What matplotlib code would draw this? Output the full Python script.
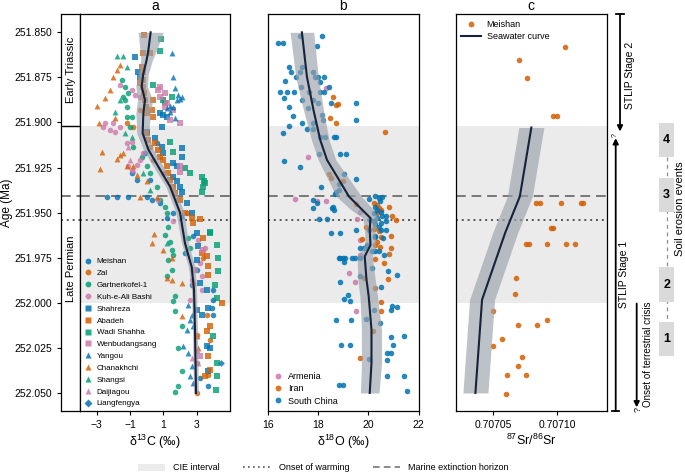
import matplotlib
matplotlib.use('Agg')
import matplotlib.pyplot as plt
from matplotlib.lines import Line2D
from matplotlib.patches import Patch, Rectangle
from matplotlib.ticker import FormatStrFormatter

plt.rcParams['font.family'] = ['Liberation Sans', 'DejaVu Sans']
plt.rcParams['mathtext.fontset'] = 'custom'
plt.rcParams['mathtext.rm'] = 'Liberation Sans'
plt.rcParams['mathtext.it'] = 'Liberation Sans:italic'

# ---------------- data: panel a (d13C) ----------------
meishan_x = [0.6, -0.1, -0.9, -0.6, 0.2, -2.4, -1.8, -1.1, 0.0, 0.3, 0.8, 1.2, 1.6, 2.8, 2.3, 4.0, 4.0, 3.9, 4.0, 3.7, 3.2, 2.7, 3.0]
meishan_age = [251.9115, 251.917, 251.9281, 251.9318, 251.9318, 251.9411, 251.9411, 251.9411, 251.9411, 251.9429, 251.9448, 251.9531, 251.9503, 251.9632, 251.9724, 251.9927, 251.9983, 252.0029, 252.0066, 252.0463, 252.0417, 251.9900, 251.9817]
zal_x = [-0.4, -1.2, -0.8, 0.2, 0.4, 1.0, 1.8, 2.4, 2.8, 3.4, 3.6, 3.8, 3.0, 3.7, 3.0, 3.0]
zal_age = [251.893, 251.9004, 251.9023, 251.9134, 251.9207, 251.9281, 251.9429, 251.9503, 251.989, 251.9752, 252.0066, 252.0204, 252.0177, 252.0398, 252.05, 252.0334]
gart_x = [-1.5, -1.3, -1.4, -1.3, -1.2, -1.2, -1.0, -0.8, -0.3, 0.0, 0.2, 0.6, 0.8, 1.1, 1.2, 1.3, -1.1, -0.9,
          1.1, 1.4, 1.5, 1.6, 1.3, 1.2, 1.5, 1.7, 1.6, 1.7, 2.1, 1.9, 2.1, 1.9, 1.7, 2.5, 2.6]
gart_age = [251.8764, 251.8801, 251.8856, 251.8875, 251.8912, 251.8967, 251.9023, 251.9134, 251.9189, 251.9244, 251.9281, 251.9355, 251.9429, 251.9466, 251.9503, 251.9577, 251.8838, 251.8967,
            251.9623, 251.966, 251.9706, 251.9734, 251.9761, 251.9854, 251.9817, 251.9964, 251.9992, 252.0047, 252.0131, 252.025, 252.038, 252.0463, 252.0494, 251.9641, 251.9697]
kuh_x = [-1.6, -0.9, -0.7, -0.4, -2.0, -2.5, -2.6, -2.2, -1.9, -1.6, -1.2, -0.9, -1.1, -0.9, -0.6, -0.4, -0.2, 0.7, 1.6, 3.1, 3.5, 3.2, 3.3, 3.3, 2.7, 2.8, 2.6]
kuh_age = [251.8792, 251.882, 251.8847, 251.8856, 251.9004, 251.9004, 251.9023, 251.9041, 251.905, 251.9023, 251.9115, 251.9106, 251.9244, 251.9263, 251.9235, 251.9207, 251.917, 251.9429, 251.9546, 251.965, 251.9697, 251.978, 251.9854, 251.9927, 251.9872, 251.99, 251.9983]
shahreza_x = [-0.7, -0.5, -0.4, 0.8, 1.0, 1.2, 0.9, 0.0, 0.5, 0.9, 1.0, 1.6, 1.8, 2.1, 2.1, 1.6, 1.8, 2.0, 2.1, 2.4, 2.7, 3.0, 3.1, 3.0, 3.2, 3.6, 3.0, 3.7, 3.6, 3.7, 3.3, 3.8]
shahreza_age = [251.8639, 251.8718, 251.8746, 251.8949, 251.8958, 251.8967, 251.9023, 251.905, 251.9087, 251.9134, 251.917, 251.9226, 251.9244, 251.9143, 251.9189, 251.93, 251.9327, 251.9355, 251.9383, 251.9448, 251.9503, 251.9613, 251.9687, 251.9761, 251.989, 251.9927, 252.0038, 252.0029, 252.0241, 252.038, 252.0066, 252.025]
abadeh_x = [-0.14, -0.2, -0.3, -0.2, -0.24, -0.2, -0.16, -0.1, -0.04, 0.0, 0.3, 0.4, 0.4, 0.0, 0.1, 0.5, 0.7, 0.8, 1.0, 1.2, 1.3, 1.4, 1.6, 1.7, 2.0, 2.3, 2.7, 3.2, 2.8, 0.2, -0.4, 3.4, 3.3, 3.6, 3.7, 3.7, 4.5, 3.8, 3.6, 3.7, 3.8, 3.5]
abadeh_age = [251.8515, 251.8616, 251.869, 251.8718, 251.8764, 251.8801, 251.8838, 251.8875, 251.8912, 251.8949, 251.893, 251.8875, 251.8967, 251.906, 251.9097, 251.9115, 251.9152, 251.9189, 251.9207, 251.9244, 251.9281, 251.9318, 251.9355, 251.9392, 251.9429, 251.9503, 251.9531, 251.9536, 251.9558, 251.8616, 251.8783, 251.9641, 251.9724, 251.9743, 251.9798, 251.9844, 252.0001, 252.0131, 252.0158, 252.0297, 252.0371, 252.0408]
wadi_x = [0.86, 0.8, 0.4, 1.0, 1.1, 1.5, 1.4, 2.3, 2.6, 3.3, 3.44, 3.5, 3.4, 3.3, 3.8, 1.6, 3.8, 4.2, 4.3, 4.3, 4.1, 4.2, 4.0, 4.2, 4.2, 4.16]
wadi_age = [251.8539, 251.8602, 251.8792, 251.8875, 251.8893, 251.8856, 251.9106, 251.9254, 251.9281, 251.93, 251.9327, 251.9337, 251.9355, 251.9383, 251.9605, 251.9161, 251.9613, 251.9678, 251.9752, 251.9826, 251.99, 251.9974, 252.0186, 252.0334, 252.0408, 252.0482]
wenbu_x = [0.8, 1.1, 0.8, 1.2, 1.6, 2.0, 1.4, 2.0, 2.0, 1.1, 0.7, 3.2, 3.4, 2.9]
wenbu_age = [251.8801, 251.8838, 251.8856, 251.8893, 251.893, 251.9004, 251.8986, 251.9272, 251.9244, 251.8912, 251.882, 252.0297, 251.9706, 251.9817]
yangou_x = [1.5, 1.56, 1.7, 1.9, 2.1, 2.0, 1.8, 1.4, 1.6, 1.2, 1.4, 1.7, 2.1, 2.5, 2.6, 2.7, 2.8, 2.2, 2.5, 2.7, 2.8, 2.4, 2.6]
yangou_age = [251.8613, 251.8749, 251.881, 251.8847, 251.8856, 251.8871, 251.8875, 251.8908, 251.8912, 251.8921, 251.894, 251.8977, 251.9521, 252.0011, 252.0094, 252.0066, 252.0131, 252.0241, 252.0278, 252.0352, 252.0445, 252.0149, 252.0408]
chan_x = [-1.8, -2.04, -2.2, -2.5, -2.96, -2.84, -2.7, -1.8, -2.8, -1.6, -1.4, -1.2, -0.8, -0.6, 0.0, -0.4, 0.6, -1.9, -1.6, 0.44, 0.3, 1.0, 1.5, 2.1, 1.5, 1.2, 2.1, 3.0, 3.1]
chan_age = [251.8709, 251.8746, 251.882, 251.8866, 251.8908, 251.9001, 251.9161, 251.9204, 251.9259, 251.918, 251.917, 251.9244, 251.9244, 251.9291, 251.9327, 251.9411, 251.9411, 251.8977, 251.868, 251.9617, 251.9669, 251.9706, 251.9752, 251.989, 251.9872, 251.9863, 252.0075, 252.0186, 252.025]
shangsi_x = [-1.76, -1.4, -1.2, -1.6, -1.9, -1.3, -0.9, -0.2, 0.2, 1.2]
shangsi_age = [251.8631, 251.8631, 251.869, 251.8875, 251.894, 251.906, 251.9078, 251.9281, 251.9374, 251.9669]
daij_x = [-1.1, -1.0, -0.8, 2.7, 3.0, 3.1]
daij_age = [251.9134, 251.9207, 251.9263, 252.0306, 252.0259, 252.0334]
liang_x = [4.45]
liang_age = [252.0334]

curve_a_age = [251.850, 251.860, 251.8653, 251.873, 251.880, 251.8875, 251.8949, 251.906, 251.915, 251.9245, 251.9355, 251.950, 251.967, 251.980, 251.9928, 252.015, 252.050]
curve_a_x = [0.24, 0.1, 0.0, -0.2, -0.3, -0.1, -0.2, -0.24, 0.1, 0.7, 1.4, 2.0, 2.3, 2.7, 2.84, 2.9, 2.96]
curve_a_hw = [0.75, 0.5, 0.35, 0.3, 0.35, 0.45, 0.45, 0.35, 0.3, 0.3, 0.25, 0.25, 0.2, 0.2, 0.15, 0.15, 0.15]

# ---------------- data: panel b (d18O) ----------------
sc_x = [18.15, 17.28, 16.41, 16.59, 17.97, 16.85, 16.91, 17.35, 17.28, 17.79, 18.21, 17.88, 18.01, 18.08, 16.68, 17.12, 17.31, 18.41,
        16.48, 16.75, 17.05, 17.65, 18.08, 18.21, 16.65, 17.35, 17.81, 18.01, 18.51, 19.51, 16.85, 17.59, 17.01, 18.15, 18.19, 17.81,
        19.51, 16.85, 17.35, 17.55, 17.81, 16.59, 18.08, 18.28, 18.61, 18.72, 18.05, 18.85, 19.12, 16.64, 17.28, 19.01, 19.51, 18.11,
        18.81, 18.72, 18.81, 18.68, 17.81, 17.97, 17.81, 18.55, 18.61, 18.59, 18.05, 18.35, 20.01, 20.28, 20.41, 20.55, 20.45, 20.28,
        20.35, 20.21, 20.51, 20.08, 20.21, 20.35, 20.55, 20.68, 20.28, 20.48, 20.68, 20.41, 20.01, 20.68, 19.51, 18.52, 18.88, 20.28,
        20.48, 20.59, 20.28, 19.68, 19.81, 19.95, 20.15, 20.28, 20.41, 20.61, 18.81, 18.88, 18.99, 19.08, 19.35, 19.48, 19.68, 19.01,
        20.15, 20.79, 21.12, 19.68, 18.88, 20.51, 19.17, 19.01, 19.25, 20.95, 21.12, 20.91, 18.72, 19.31, 19.92, 20.24, 20.44, 20.88,
        21.41, 18.92, 19.25, 20.99, 20.72, 20.88, 20.72, 20.01, 20.75, 21.41, 18.81, 18.99, 21.52]
sc_age = [251.852, 251.852, 251.8561, 251.8561, 251.8576, 251.869, 251.8718, 251.869, 251.8718, 251.8718, 251.8746, 251.8749, 251.8749, 251.8773, 251.877, 251.8749, 251.8801, 251.8801,
          251.8829, 251.8829, 251.8829, 251.8829, 251.8829, 251.8829, 251.8866, 251.8875, 251.8875, 251.8893, 251.8893, 251.8893, 251.8912, 251.8917, 251.8964, 251.8958, 251.8986, 251.9001,
          251.8986, 251.9019, 251.9004, 251.9037, 251.9037, 251.9056, 251.9082, 251.9082, 251.9078, 251.9078, 251.9174, 251.9174, 251.9174, 251.9211, 251.9248, 251.9287, 251.9315, 251.9355,
          251.9342, 251.9388, 251.9374, 251.9398, 251.9429, 251.9448, 251.9475, 251.9475, 251.9484, 251.9466, 251.9534, 251.9534, 251.9425, 251.941, 251.942, 251.9414, 251.9438, 251.9466,
          251.9484, 251.9503, 251.9494, 251.954, 251.9544, 251.9531, 251.9521, 251.9518, 251.9562, 251.9555, 251.9549, 251.9577, 251.9595, 251.9595, 251.9595, 251.9614, 251.9614, 251.9636,
          251.9595, 251.9641, 251.9632, 251.9697, 251.9697, 251.9678, 251.9715, 251.9715, 251.9715, 251.9734, 251.9752, 251.9752, 251.9752, 251.9752, 251.9752, 251.9752, 251.9752, 251.9771,
          251.9808, 251.9826, 251.9845, 251.9854, 251.9887, 251.9913, 251.9955, 251.998, 251.9989, 252.002, 252.0024, 252.0042, 252.0094, 252.0094, 252.009, 252.0042, 252.0113, 252.019,
          252.0186, 252.0233, 252.0233, 252.0233, 252.0279, 252.0279, 252.0316, 252.0312, 252.0408, 252.0408, 252.0458, 252.0458, 252.0491]
iran_x = [18.59, 18.77, 18.72, 18.45, 18.72, 20.65, 18.41, 18.51, 18.99, 19.52, 20.21, 20.35, 20.41, 20.48, 20.81, 20.35, 20.95, 21.08, 19.92, 20.21,
          20.41, 20.88, 19.75, 20.48, 20.35, 20.28, 20.45, 20.91, 20.81, 20.28, 20.61, 20.79, 20.28, 20.48, 20.51, 19.84, 20.19, 19.68]
iran_age = [251.886, 251.8897, 251.8903, 251.8977, 251.9001, 251.905, 251.9287, 251.9309, 251.9327, 251.9451, 251.9448, 251.9457, 251.9475, 251.9488, 251.947, 251.9503, 251.9521, 251.954, 251.9577, 251.9592,
            251.9599, 251.9628, 251.9647, 251.9636, 251.966, 251.9678, 251.9691, 251.9697, 251.973, 251.9758, 251.978, 251.9869, 251.992, 251.9998, 252.0048, 251.9863, 252.0159, 252.0306]
arm_x = [18.31, 17.61, 17.08, 18.32, 17.95, 19.68, 19.55, 19.68, 19.65, 19.24, 19.45, 19.52]
arm_age = [251.881, 251.9194, 251.9424, 251.9433, 251.9438, 251.9494, 251.9534, 251.9651, 251.9734, 251.9832, 251.9887, 252.0048]

curve_b_age = [251.850, 251.8746, 251.893, 251.9097, 251.9208, 251.930, 251.941, 251.9484, 251.953, 251.9597, 251.968, 251.9743, 251.987, 251.9965, 252.015, 252.0334, 252.050]
curve_b_x = [17.35, 17.55, 17.81, 18.08, 18.35, 18.75, 19.22, 19.75, 20.08, 20.05, 20.08, 19.85, 19.92, 20.01, 20.12, 20.12, 20.05]
curve_b_hw = [0.47, 0.45, 0.4, 0.35, 0.35, 0.42, 0.5, 0.45, 0.3, 0.2, 0.22, 0.3, 0.35, 0.35, 0.4, 0.4, 0.37]

# ---------------- data: panel c (87Sr/86Sr) ----------------
sr_x = [0.707106, 0.707070, 0.7070766, 0.7070973, 0.7071, 0.7070836, 0.707087, 0.7071031, 0.707119, 0.7071208,
        0.7070953, 0.707097, 0.707076, 0.7070778, 0.707092, 0.707107, 0.7071138, 0.707068, 0.7070669, 0.70705,
        0.707092, 0.7070698, 0.7070846, 0.707057, 0.70705, 0.7070727, 0.7070698, 0.707061, 0.7070758, 0.7070598]
sr_age = [251.858, 251.8653, 251.8751, 251.8964, 251.8964, 251.9447, 251.9447, 251.9447, 251.9447, 251.9447,
          251.9583, 251.9583, 251.9673, 251.9673, 251.9673, 251.9673, 251.9673, 251.9865, 251.995, 252.0048,
          252.0093, 252.0125, 252.0125, 252.020, 252.024, 252.030, 252.0353, 252.0403, 252.0403, 252.0508]
curve_c_age = [251.9028, 251.941, 251.961, 251.9983, 252.050]
curve_c_x = [0.707080, 0.707071, 0.7070596, 0.7070414, 0.7070362]
curve_c_hw = 0.0000098

# ---------------- horizons ----------------
cie_top, cie_bottom = 251.902, 252.000
ptb_age = 251.902
extinction_age = 251.941
warming_age = 251.954
erosion_events = ['1', '2', '3', '4']
erosion_top = [252.0107, 251.9804, 251.9306, 251.9003]
erosion_bottom = [252.0293, 251.9996, 251.9497, 251.919]

blue, orange, green, pink = '#0072B2', '#D55E00', '#009E73', '#CC79A7'
curve_col = '#17223b'
band_col = '#9aa1ab'
cie_col = '#ebebeb'
YLIM = (252.06, 251.84)

W, H = 685, 475
fig = plt.figure(figsize=(W / 100, H / 100), dpi=100)
bot = (H - 411) / H
hgt = (411 - 14.3) / H

ax_s = fig.add_axes([61 / W, bot, 19 / W, hgt])
ax_a = fig.add_axes([80 / W, bot, 150 / W, hgt])
ax_b = fig.add_axes([268 / W, bot, 150.7 / W, hgt])
ax_c = fig.add_axes([456 / W, bot, 150.7 / W, hgt])
ax_r = fig.add_axes([606.7 / W, bot, 78.3 / W, hgt])

for ax in (ax_s, ax_a, ax_b, ax_c):
    ax.set_ylim(*YLIM)
    ax.axhline(extinction_age, color='#777777', lw=1.4, ls=(0, (5, 3)), zorder=1)
    ax.axhline(warming_age, color='#555555', lw=1.4, ls=(0, (1, 2)), zorder=1)
    ax.tick_params(labelsize=7.5, length=3, width=0.8)
    for sp in ax.spines.values():
        sp.set_linewidth(0.9)
for ax in (ax_a, ax_b, ax_c):
    ax.axhspan(cie_top, cie_bottom, color=cie_col, lw=0, zorder=0)
    ax.set_yticks([])

# strip
ax_s.set_xlim(0, 1)
ax_s.set_xticks([])
ax_s.set_yticks([251.850, 251.875, 251.900, 251.925, 251.950, 251.975, 252.000, 252.025, 252.050])
ax_s.yaxis.set_major_formatter(FormatStrFormatter('%.3f'))
ax_s.plot([0, 1], [ptb_age, ptb_age], color='black', lw=1.0)
ax_s.text(0.5, (YLIM[1] + ptb_age) / 2, 'Early Triassic', rotation=90, ha='center', va='center', fontsize=8)
ax_s.text(0.5, (YLIM[0] + ptb_age) / 2, 'Late Permian', rotation=90, ha='center', va='center', fontsize=8)
fig.text(7.5 / W, (H - 203) / H, 'Age (Ma)', rotation=90, ha='center', va='center', fontsize=8.5)

# panel a
sites = [
    ('Meishan', meishan_x, meishan_age, 'o', blue),
    ('Zal', zal_x, zal_age, 'o', orange),
    ('Gartnerkofel-1', gart_x, gart_age, 'o', green),
    ('Kuh-e-Ali Bashi', kuh_x, kuh_age, 'o', pink),
    ('Shahreza', shahreza_x, shahreza_age, 's', blue),
    ('Abadeh', abadeh_x, abadeh_age, 's', orange),
    ('Wadi Shahha', wadi_x, wadi_age, 's', green),
    ('Wenbudangsang', wenbu_x, wenbu_age, 's', pink),
    ('Yangou', yangou_x, yangou_age, '^', blue),
    ('Chanakhchi', chan_x, chan_age, '^', orange),
    ('Shangsi', shangsi_x, shangsi_age, '^', green),
    ('Daijiagou', daij_x, daij_age, '^', pink),
    ('Liangfengya', liang_x, liang_age, 'D', blue),
]
handles = []
for name, xs, ys, m, c in sites:
    s = 16 if m in ('o', 's') else (18 if m == '^' else 12)
    ax_a.scatter(xs, ys, s=s, marker=m, color=c, alpha=0.8, lw=0, zorder=2)
    handles.append(Line2D([], [], marker=m, color=c, ls='none', markersize=4.2 if m != 'D' else 3.6, alpha=0.85, mec='none', label=name))
lo = [x - h for x, h in zip(curve_a_x, curve_a_hw)]
hi = [x + h for x, h in zip(curve_a_x, curve_a_hw)]
ax_a.fill_betweenx(curve_a_age, lo, hi, color=band_col, alpha=0.65, lw=0, zorder=3)
ax_a.plot(curve_a_x, curve_a_age, color=curve_col, lw=1.5, zorder=4)
ax_a.set_xlim(-4, 5)
ax_a.set_xticks([-3, -1, 1, 3])
ax_a.set_xlabel('δ$^{13}$C (‰)', fontsize=9, labelpad=2)
ax_a.set_title('a', fontsize=10, pad=3)
ax_a.legend(handles=handles, loc='lower left', frameon=False, fontsize=5.8, handlelength=1.0,
            handletextpad=0.6, labelspacing=0.52, borderaxespad=0.15, borderpad=0.3)

# panel b
ax_b.scatter(arm_x, arm_age, s=16, color=pink, alpha=0.85, lw=0, zorder=2)
ax_b.scatter(iran_x, iran_age, s=16, color=orange, alpha=0.85, lw=0, zorder=2)
ax_b.scatter(sc_x, sc_age, s=16, color=blue, alpha=0.85, lw=0, zorder=2)
lo = [x - h for x, h in zip(curve_b_x, curve_b_hw)]
hi = [x + h for x, h in zip(curve_b_x, curve_b_hw)]
ax_b.fill_betweenx(curve_b_age, lo, hi, color=band_col, alpha=0.65, lw=0, zorder=3)
ax_b.plot(curve_b_x, curve_b_age, color=curve_col, lw=1.5, zorder=4)
ax_b.set_xlim(16, 22)
ax_b.set_xticks([16, 18, 20, 22])
ax_b.set_xlabel('δ$^{18}$O (‰)', fontsize=9, labelpad=2)
ax_b.set_title('b', fontsize=10, pad=3)
hb = [Line2D([], [], marker='o', color=c, ls='none', markersize=4.2, alpha=0.85, mec='none', label=l)
      for l, c in (('Armenia', pink), ('Iran', orange), ('South China', blue))]
ax_b.legend(handles=hb, loc='lower left', frameon=False, fontsize=6.5, handlelength=1.0,
            handletextpad=0.6, labelspacing=0.35, borderaxespad=0.2, borderpad=0.4)

# panel c
ax_c.scatter(sr_x, sr_age, s=16, color=orange, alpha=0.85, lw=0, zorder=2)
ax_c.fill_betweenx(curve_c_age, [x - curve_c_hw for x in curve_c_x], [x + curve_c_hw for x in curve_c_x],
                   color=band_col, alpha=0.65, lw=0, zorder=3)
ax_c.plot(curve_c_x, curve_c_age, color=curve_col, lw=1.5, zorder=4)
ax_c.set_xlim(0.707021, 0.707139)
ax_c.set_xticks([0.70705, 0.70710])
ax_c.set_xticklabels(['0.70705', '0.70710'])
ax_c.set_xlabel('$^{87}$Sr/$^{86}$Sr', fontsize=9, labelpad=2)
ax_c.set_title('c', fontsize=10, pad=3)
hc = [Line2D([], [], marker='o', color=orange, ls='none', markersize=4.2, alpha=0.85, mec='none', label='Meishan'),
      Line2D([], [], color=curve_col, lw=1.5, label='Seawater curve')]
ax_c.legend(handles=hc, loc='upper left', frameon=False, fontsize=6.5, handlelength=2.2,
            handletextpad=0.6, labelspacing=0.35, borderaxespad=0.2, borderpad=0.4)

# right-side annotations
ax_r.set_ylim(*YLIM)
ax_r.set_xlim(0, 1)
ax_r.axis('off')
def arrow(x, tail, head):
    ax_r.annotate('', xy=(x, head), xytext=(x, tail), annotation_clip=False,
                  arrowprops=dict(arrowstyle='-|>', lw=1.3, color='black', mutation_scale=8, shrinkA=0, shrinkB=0))
arrow(0.170, 251.84, 251.905)
ax_r.plot([0.125, 0.215], [251.84, 251.84], color='black', lw=1.3, clip_on=False)
arrow(0.115, 252.06, 251.9087)
ax_r.plot([0.07, 0.16], [252.06, 252.06], color='black', lw=1.3, clip_on=False)
ax_r.text(0.105, 251.9068, '?', rotation=90, fontsize=5, ha='center', va='center')
arrow(0.383, 252.0004, 252.058)
ax_r.text(0.40, 252.059, '?', rotation=90, fontsize=6.5, ha='center', va='center', clip_on=False)
ax_r.text(0.298, 251.8737, 'STLIP Stage 2', rotation=90, fontsize=7.5, ha='center', va='center')
ax_r.text(0.221, 251.984, 'STLIP Stage 1', rotation=90, fontsize=7.5, ha='center', va='center')
ax_r.text(0.531, 252.0285, 'Onset of terrestrial crisis', rotation=90, fontsize=7, ha='center', va='center', clip_on=False)
ax_r.plot([0.766, 0.766], [erosion_bottom[3], erosion_top[0]], color='#8c8c8c', lw=0.9, ls=(0, (3, 3)), zorder=1)
for lab, t, b in zip(erosion_events, erosion_top, erosion_bottom):
    ax_r.add_patch(Rectangle((0.672, t), 0.188, b - t, facecolor='#dadada', edgecolor='none', zorder=2))
    ax_r.text(0.766, (t + b) / 2, lab, fontsize=9, fontweight='bold', ha='center', va='center', zorder=3)
ax_r.text(0.936, 251.948, 'Soil erosion events', rotation=90, fontsize=8, ha='center', va='center', clip_on=False)

# bottom legend
lh = [Patch(facecolor=cie_col, edgecolor='none', label='CIE interval'),
      Line2D([], [], color='#555555', lw=1.2, ls=(0, (1, 2)), label='Onset of warming'),
      Line2D([], [], color='#777777', lw=1.2, ls=(0, (4, 2.5)), label='Marine extinction horizon')]
fig.legend(handles=lh, loc='center', bbox_to_anchor=(0.472, 7 / H), ncol=3, frameon=False, fontsize=6.5,
           handlelength=3.0, handletextpad=0.9, columnspacing=2.6)

fig.savefig('out.png', dpi=100)
